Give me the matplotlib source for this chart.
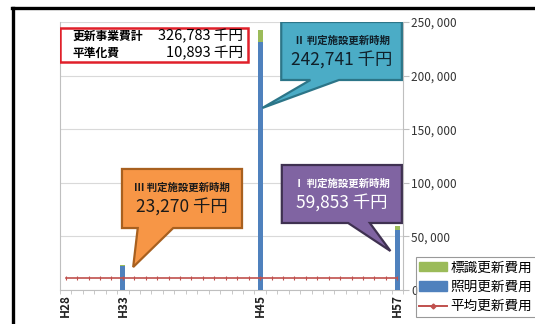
import numpy as np
import matplotlib
matplotlib.use('Agg')
import matplotlib.pyplot as plt
from matplotlib.patches import Polygon, Rectangle
from matplotlib.lines import Line2D

plt.rcParams['font.family'] = ['Noto Sans CJK JP', 'DejaVu Sans']

# data (千円), H28..H57
years = ['H%d' % y for y in range(28, 58)]
shown = ['H28', 'H33', 'H45', 'H57']
lighting = np.zeros(30)
signs = np.zeros(30)
# H33, H45, H57
lighting[5], signs[5] = 22270, 1000
lighting[17], signs[17] = 231541, 11200
lighting[29], signs[29] = 56153, 3700
average = 10893
total = 326783
yticks = [0, 50000, 100000, 150000, 200000, 250000]

blue = '#4F81BD'
green = '#9BBB59'
red = '#C0504D'

fig = plt.figure(figsize=(5.35, 3.24), dpi=100)
W, H = 535, 324
ax = fig.add_axes([60 / W, 1 - 290 / H, 343 / W, 268 / H])

x = np.arange(len(years))
ax.bar(x, lighting, width=0.45, color=blue, zorder=3, label='照明更新費用')
ax.bar(x, signs, width=0.45, bottom=lighting, color=green, zorder=3, label='標識更新費用')
ax.plot(x, np.full(len(x), average), color=red, lw=1.2, marker='|', ms=3, mew=0.8,
        zorder=4, label='平均更新費用')

ax.set_xlim(-0.5, 29.5)
ax.set_ylim(0, 250000)
ax.yaxis.tick_right()
ax.set_yticks(yticks)
ax.set_yticklabels(['0' if v == 0 else f'{v:,}'.replace(',', ', ') for v in yticks],
                   fontsize=8.5, color='#333333')
ax.tick_params(axis='y', length=4, color='#BFBFBF', pad=2)
ax.grid(axis='y', color='#D9D9D9', lw=0.8, zorder=0)
ax.set_xticks(x)
ax.set_xticklabels([y if y in shown else '' for y in years], rotation=90,
                   fontsize=8.5, fontweight='bold', color='#222222')
ax.set_xticks(np.arange(-0.5, 30, 1), minor=True)
ax.tick_params(axis='x', which='major', length=0, pad=3)
ax.tick_params(axis='x', which='minor', length=3, color='#BFBFBF')
ax.spines['top'].set_visible(False)
for s in ['left', 'right', 'bottom']:
    ax.spines[s].set_color('#BFBFBF')
    ax.spines[s].set_linewidth(0.8)

# summary box
ax.add_patch(Rectangle((-0.5, 212700), 16.45, 31700, facecolor='white',
                       edgecolor='#E0202A', lw=1.8, zorder=6))
ax.text(0.6, 236500, '更新事業費計', fontsize=8.5, fontweight='bold', va='center', zorder=7)
ax.text(15.5, 236500, f'{total:,} 千円', fontsize=10.5, ha='right', va='center', zorder=7)
ax.text(0.6, 221000, '平準化費', fontsize=8.5, fontweight='bold', va='center', zorder=7)
ax.text(15.5, 221000, f'{average:,} 千円', fontsize=10.5, ha='right', va='center', zorder=7)


def callout(x0, x1, y0, y1, tail, tip, fc, ec, title, value, tc):
    pts = [(x0, y1), (x1, y1), (x1, y0), (tail[1], y0), tip, (tail[0], y0), (x0, y0)]
    ax.add_patch(Polygon(pts, closed=True, facecolor=fc, edgecolor=ec, lw=1.6, zorder=6))
    xm = (x0 + x1) / 2
    ax.text(xm, y1 - (y1 - y0) * 0.32, title, fontsize=7.5, fontweight='bold',
            ha='center', va='center', color=tc, zorder=7)
    ax.text(xm, y1 - (y1 - y0) * 0.66, value, fontsize=12.5, ha='center', va='center',
            color=tc, zorder=7)


callout(18.85, 29.4, 195900, 250000, (21.4, 23.9), (17.2, 169800),
        '#4BACC6', '#2C7588', 'Ⅱ 判定施設更新時期', '242,741 千円', '#10202A')
callout(4.92, 15.42, 57800, 112900, (6.3, 9.4), (5.9, 21400),
        '#F79646', '#A8601F', 'Ⅲ 判定施設更新時期', '23,270 千円', '#1A1A1A')
callout(18.9, 29.4, 62500, 116600, (24.7, 26.6), (28.4, 36400),
        '#8064A2', '#3F3151', 'Ⅰ 判定施設更新時期', '59,853 千円', 'white')

handles = [Rectangle((0, 0), 1, 1, color=green), Rectangle((0, 0), 1, 1, color=blue),
           Line2D([], [], color=red, lw=1.4, marker='D', ms=2.5)]
leg = fig.legend(handles, ['標識更新費用', '照明更新費用', '平均更新費用'],
                 loc='upper left', bbox_to_anchor=(416 / W, 1 - 257 / H),
                 fontsize=9.8, frameon=True, fancybox=False, edgecolor='#808080',
                 borderpad=0.25, labelspacing=0.4, handlelength=2.0,
                 handletextpad=0.3, borderaxespad=0)
leg.get_frame().set_linewidth(0.8)

# outer frame
fig.add_artist(Line2D([13 / W, 13 / W], [0, 1 - 8 / H], color='black', lw=2.4))
fig.add_artist(Line2D([12 / W, 1], [1 - 8 / H, 1 - 8 / H], color='black', lw=2.4))

fig.savefig('out.png', dpi=100)
